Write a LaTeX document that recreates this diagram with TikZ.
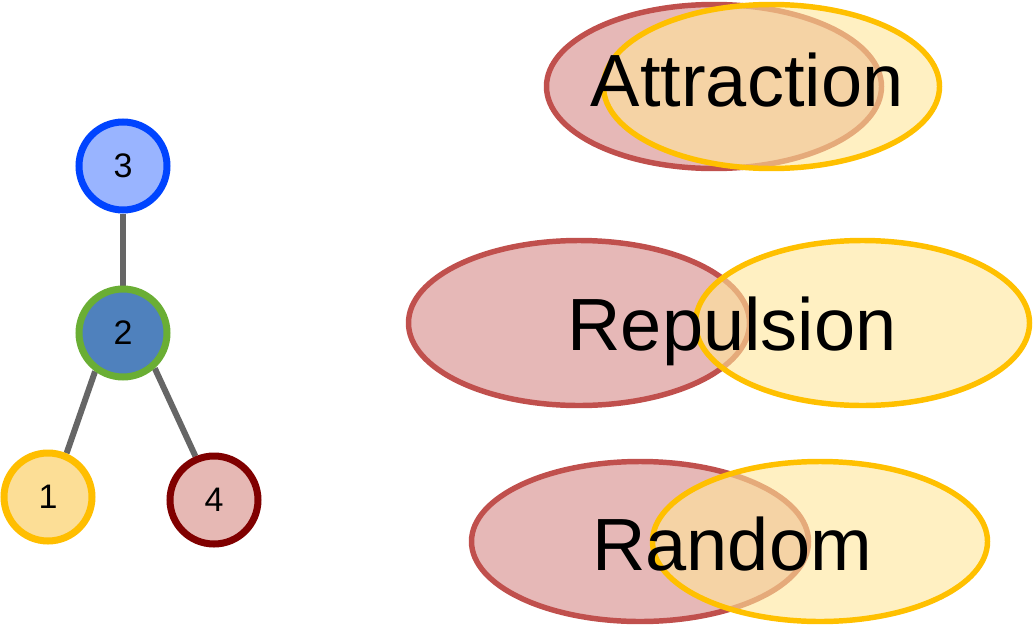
\documentclass[tikz,border=0pt]{standalone}
\usepackage{fontspec}
\setmainfont{Liberation Sans}
\usetikzlibrary{positioning,backgrounds}

\definecolor{threeline}{RGB}{0,68,255}
\definecolor{threefill}{RGB}{153,180,255}
\definecolor{twoline}{RGB}{106,174,52}
\definecolor{twofill}{RGB}{79,129,189}
\definecolor{oneline}{RGB}{255,190,0}
\definecolor{onefill}{RGB}{252,222,150}
\definecolor{fourline}{RGB}{128,0,0}
\definecolor{fourfill}{RGB}{230,184,180}
\definecolor{edgegray}{RGB}{102,102,102}
\definecolor{redline}{RGB}{192,80,77}
\definecolor{redfill}{RGB}{230,184,183}
\definecolor{yelline}{RGB}{255,192,0}
\definecolor{yelfill}{RGB}{255,230,153}

\begin{document}
\begin{tikzpicture}[x=0.75pt,y=-0.75pt,
  vertex/.style={circle,line width=5.25pt,minimum size=66pt,inner sep=0pt,
    font=\fontsize{25.5}{28}\selectfont},
  link/.style={edgegray,line width=4.5pt},
  redset/.style={draw=redline,fill=redfill,line width=4.1pt},
  yelset/.style={draw=yelline,fill=yelfill,fill opacity=0.6,line width=4.1pt},
  word/.style={anchor=base,inner sep=0pt,font=\fontsize{55.5}{60}\selectfont}]
\useasboundingbox (0,0) rectangle (1034,628);

\node [vertex,draw=threeline,fill=threefill] (n3) at (123,166) {3};
\node [vertex,draw=twoline,fill=twofill] (n2) at (123,333) {2};
\node [vertex,draw=oneline,fill=onefill] (n1) at (48,497) {1};
\node [vertex,draw=fourline,fill=fourfill] (n4) at (214,500) {4};
\begin{pgfonlayer}{background}
\draw [link] (n3) -- (n2);
\draw [link] (n2.234) -- (n1.67);
\draw [link] (n2.312) -- (n4.113);
\end{pgfonlayer}

\draw [redset] (714,86.5) ellipse [x radius=167.5, y radius=82];
\draw [yelset] (771.5,86.5) ellipse [x radius=168, y radius=82];
\node [word] (attraction) at (747,106) {Attraction};

\draw [redset] (579,323) ellipse [x radius=170.5, y radius=82.5];
\draw [yelset] (862.5,323) ellipse [x radius=167, y radius=82.5];
\node [word] (repulsion) at (732,350) {Repulsion};

\draw [redset] (640,541.5) ellipse [x radius=168.5, y radius=80];
\draw [yelset] (820,541.5) ellipse [x radius=167.5, y radius=80];
\node [word] (random) at (732,570) {Random};
\end{tikzpicture}
\end{document}
